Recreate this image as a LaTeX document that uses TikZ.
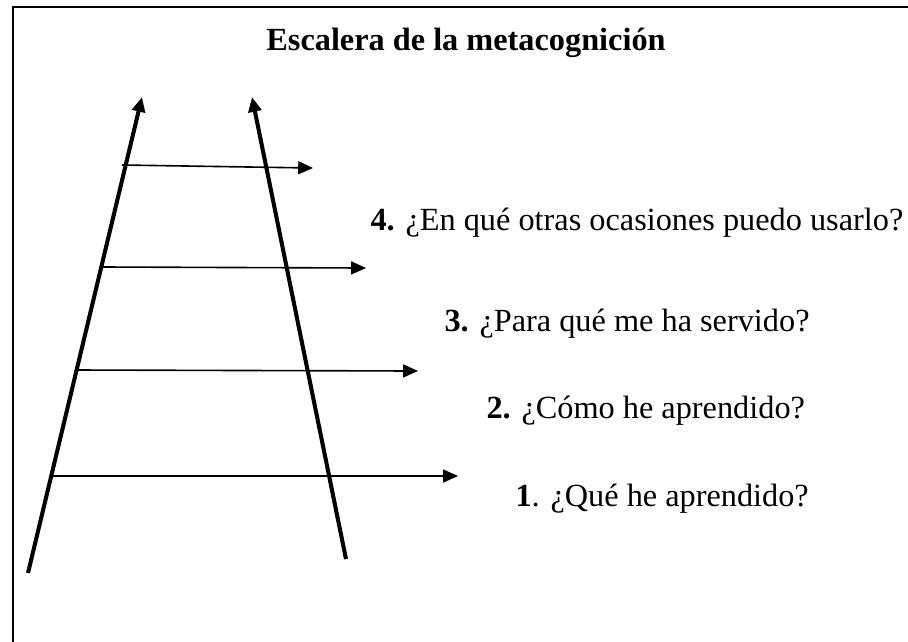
\documentclass[tikz,border=0pt]{standalone}
\usepackage{fontspec}
\setmainfont{Liberation Serif}
\usetikzlibrary{arrows.meta}
\tikzset{>={Triangle[length=5.5pt,width=4.8pt]}}
\tikzset{
  rail/.style={line width=1.5pt,->},
  rung/.style={line width=0.6pt,->},
  question/.style={anchor=west,inner sep=0pt,font=\fontsize{12}{14}\selectfont},
}

\begin{document}
\begin{tikzpicture}[x=0.3715pt,y=-0.3715pt]
    \useasboundingbox (0,0) rectangle (908,641);
    \clip (0,0) rectangle (908,641);
    \draw[line width=1.1pt] (13,7) rectangle (960,700);
    \node[font=\bfseries\fontsize{12}{14}\selectfont] (title) at (466,43) {Escalera de la metacognición};

    % the two rails of the ladder
    \coordinate (leftfoot) at (28,573);
    \coordinate (lefttop) at (142,97);
    \coordinate (rightfoot) at (346,559);
    \coordinate (righttop) at (252,97);
    \draw[rail] (leftfoot) -- (lefttop);
    \draw[rail] (rightfoot) -- (righttop);

    % rungs
    \coordinate (rungfours) at (122,165);
    \coordinate (rungfoure) at (313,168);
    \coordinate (rungthrees) at (103,267);
    \coordinate (rungthreee) at (366,268);
    \coordinate (rungtwos) at (75,370);
    \coordinate (rungtwoe) at (418,371);
    \coordinate (rungones) at (52,476);
    \coordinate (rungonee) at (458,476);
    \draw[rung] (rungfours) -- (rungfoure);
    \draw[rung] (rungthrees) -- (rungthreee);
    \draw[rung] (rungtwos) -- (rungtwoe);
    \draw[rung] (rungones) -- (rungonee);

    \node[question] (qfour) at (370,223) {\textbf{4.} ¿En qué otras ocasiones puedo usarlo?};
    \node[question] (qthree) at (444,324) {\textbf{3.} ¿Para qué me ha servido?};
    \node[question] (qtwo) at (486,411) {\textbf{2.} ¿Cómo he aprendido?};
    \node[question] (qone) at (515,499) {\textbf{1}. ¿Qué he aprendido?};
\end{tikzpicture}
\end{document}
